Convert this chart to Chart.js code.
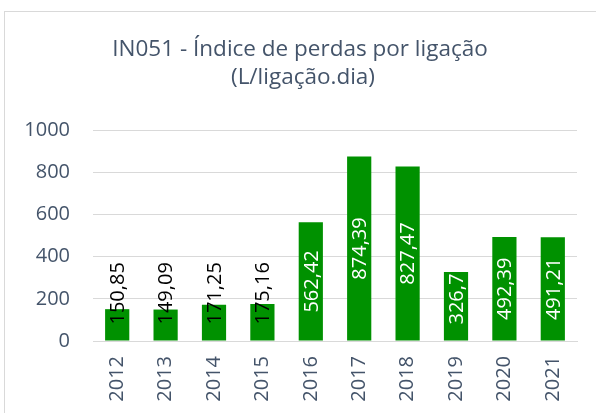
<!DOCTYPE html>
<html>
<head>
<meta charset="utf-8">
<script src="https://cdn.jsdelivr.net/npm/chart.js@4.4.0/dist/chart.umd.min.js"></script>
<style>
  html, body { margin: 0; padding: 0; background: #fff; }
  #wrap { width: 596px; height: 413px; position: relative; }
</style>
</head>
<body>
<div id="wrap"><canvas id="perdasChart"></canvas></div>
<script>
var anos = ['2012', '2013', '2014', '2015', '2016', '2017', '2018', '2019', '2020', '2021'];
var perdas = [150.85, 149.09, 171.25, 175.16, 562.42, 874.39, 827.47, 326.7, 492.39, 491.21];
var yTicks = [0, 200, 400, 600, 800, 1000];
var titulo = ['IN051 - Índice de perdas por ligação', '(L/ligação.dia)'];

var textColor = '#44546A';
var fontFam = '"Open Sans", sans-serif';

function fmt(v) {
    return String(v).replace('.', ',');
}

// moldura cinza e titulo centrado na figura toda
var frame = {
    id: 'frame',
    beforeDraw: function (chart) {
        var c = chart.ctx;
        c.save();
        c.fillStyle = '#fff';
        c.fillRect(0, 0, chart.width, chart.height);
        c.strokeStyle = '#d9d9d9';
        c.lineWidth = 1;
        c.strokeRect(4.5, 11.5, 700, 500);
        c.fillStyle = textColor;
        c.font = '22.5px ' + fontFam;
        c.textAlign = 'center';
        c.textBaseline = 'alphabetic';
        c.fillText(titulo[0], 300, 56);
        c.fillText(titulo[1], 303, 84);
        c.restore();
    }
};

// rotulos de dados na vertical
var rotulos = {
    id: 'rotulos',
    afterDatasetsDraw: function (chart) {
        var c = chart.ctx;
        var meta = chart.getDatasetMeta(0);
        c.save();
        c.font = '20px ' + fontFam;
        meta.data.forEach(function (bar, i) {
            var txt = fmt(perdas[i]);
            var w = c.measureText(txt).width;
            var h = bar.base - bar.y;
            var cy = (bar.y + bar.base) / 2;
            cy = Math.min(cy, bar.base - w / 2 - 16);
            c.save();
            c.translate(bar.x + 1, cy);
            c.rotate(-Math.PI / 2);
            c.textAlign = 'center';
            c.textBaseline = 'middle';
            c.fillStyle = (w + 14 > h) ? '#000' : '#fff';
            c.fillText(txt, 0, 0);
            c.restore();
        });
        c.restore();
    }
};

var ctx = document.getElementById('perdasChart').getContext('2d');
var myChart = new Chart(ctx, {
    type: 'bar',
    data: {
        labels: anos,
        datasets: [{
            data: perdas,
            backgroundColor: '#009100',
            borderWidth: 0,
            barPercentage: 0.5,
            categoryPercentage: 1
        }]
    },
    options: {
        responsive: true,
        maintainAspectRatio: false,
        animation: false,
        layout: {
            padding: { left: 0, right: 19, top: 130, bottom: 0 }
        },
        plugins: {
            legend: { display: false },
            tooltip: { enabled: false },
            title: { display: false }
        },
        scales: {
            y: {
                min: 0,
                max: 1000,
                afterBuildTicks: function (axis) {
                    axis.ticks = yTicks.map(function (v) { return { value: v }; });
                },
                afterFit: function (axis) { axis.width = 93; },
                border: { display: false },
                grid: { color: '#d9d9d9', drawTicks: false },
                ticks: {
                    color: textColor,
                    padding: 23,
                    font: { family: fontFam, size: 20 },
                    callback: function (v) { return String(v); }
                }
            },
            x: {
                afterFit: function (axis) { axis.height = 72; },
                border: { display: true, color: '#d9d9d9' },
                grid: { display: false, drawTicks: false },
                ticks: {
                    color: textColor,
                    padding: 15,
                    maxRotation: 90,
                    minRotation: 90,
                    font: { family: fontFam, size: 20 }
                }
            }
        }
    },
    plugins: [frame, rotulos]
});
</script>
</body>
</html>
